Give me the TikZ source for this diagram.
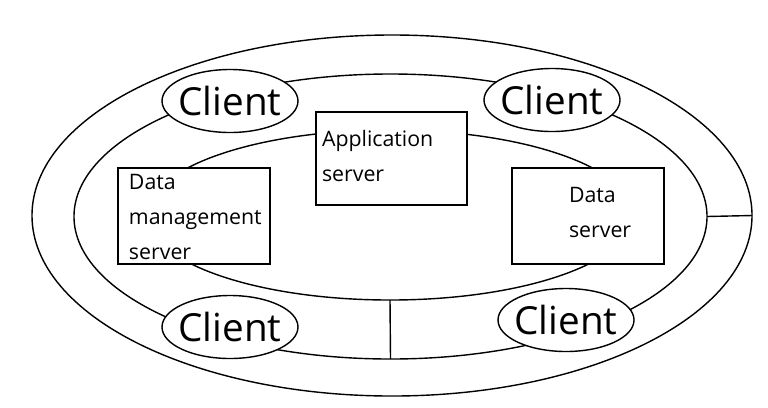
\documentclass[tikz,border=0pt]{standalone}
\usepackage{fontspec}
\setmainfont{Open Sans}
\usetikzlibrary{shapes.geometric, positioning}

\begin{document}
\begin{tikzpicture}[x=0.03cm, y=-0.03cm, line width=1.2pt,
    ring/.style={draw, ellipse, inner sep=0pt, outer sep=0pt},
    client/.style={draw, fill=white, ellipse, minimum width=4.08cm, minimum height=1.89cm,
                   inner xsep=-0.2cm, inner ysep=0pt, font=\fontsize{33}{36}\selectfont},
    srvbox/.style={draw, fill=white, rectangle, inner sep=0pt, minimum width=4.56cm, minimum height=2.88cm},
    srvtext/.style={anchor=north west, inner sep=0pt, align=left, font=\fontsize{18.2}{30}\selectfont}
  ]
  \useasboundingbox (0,0) rectangle (768,407);

  % the three rings
  \node[ring, minimum width=21.6cm, minimum height=10.83cm] (outer) at (392,215.5) {};
  \node[ring, minimum width=18.99cm, minimum height=8.55cm] (mid) at (390.5,216.5) {};
  \node[ring, minimum width=14.58cm, minimum height=5.1cm] (inner) at (390,215) {};

  % links between the rings
  \draw (mid.east) -- (outer.east);
  \draw (inner.south) -- (mid.south);

  % servers
  \node[srvbox] (dm) at (194,216) {};
  \node[srvbox, minimum width=4.53cm, minimum height=2.79cm] (app) at (391.5,158.5) {};
  \node[srvbox] (ds) at (588,216) {};
  \node[srvtext] (dmtext) at ([shift={(11,6)}]dm.north west) {Data\\management\\server};
  \node[srvtext] (apptext) at ([shift={(6,18)}]app.north west) {Application\\server};
  \node[srvtext] (dstext) at ([shift={(57,19)}]ds.north west) {Data\\server};

  % clients on the middle ring
  \node[client] (cl1) at (230,101) {Client};
  \node[client] (cl2) at (552,100) {Client};
  \node[client] (cl3) at (230,327) {Client};
  \node[client] (cl4) at (566,320) {Client};
\end{tikzpicture}
\end{document}
